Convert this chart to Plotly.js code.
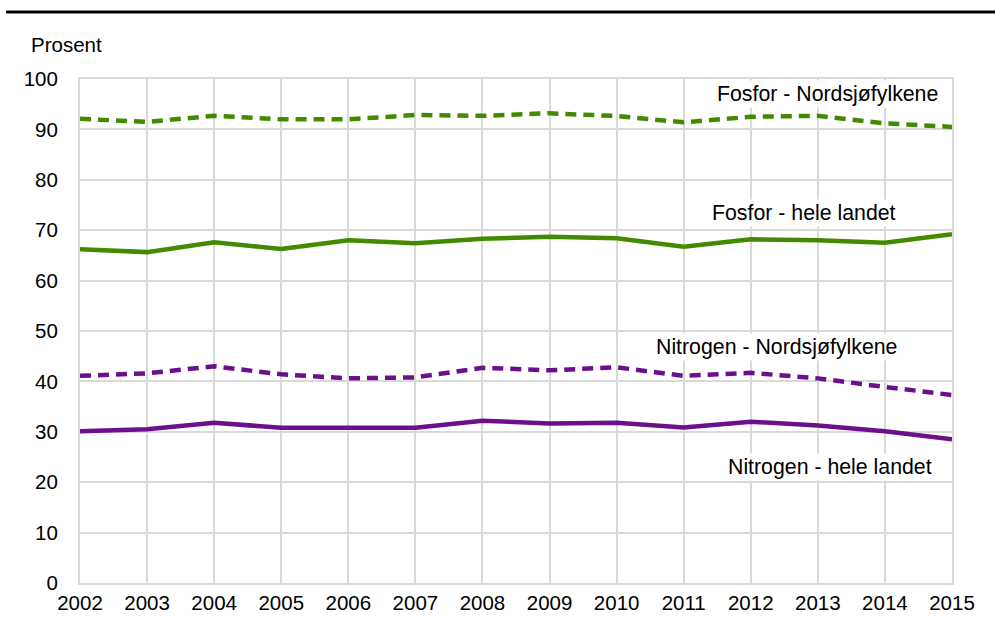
<!DOCTYPE html>
<html>
<head>
<meta charset="utf-8">
<script src="https://cdn.plot.ly/plotly-3.0.1.min.js"></script>
<style>html,body{margin:0;padding:0;background:#fff;}#chart{width:995px;height:619px;}</style>
</head>
<body>
<div id="chart"></div>
<script>
const years = [2002,2003,2004,2005,2006,2007,2008,2009,2010,2011,2012,2013,2014,2015];
const fosforNordsjo = [92.1,91.5,92.7,92.0,92.0,92.85,92.7,93.2,92.65,91.4,92.5,92.7,91.2,90.5];
const fosforHele = [66.2,65.65,67.6,66.25,68.0,67.4,68.3,68.7,68.4,66.7,68.2,68.0,67.5,69.2];
const nitrogenNordsjo = [41.1,41.6,43.0,41.4,40.6,40.8,42.7,42.2,42.8,41.1,41.7,40.6,38.9,37.3];
const nitrogenHele = [30.1,30.5,31.8,30.8,30.8,30.8,32.2,31.65,31.8,30.85,32.0,31.25,30.1,28.5];
const seriesNames = ['Fosfor - Nordsjøfylkene','Fosfor - hele landet','Nitrogen - Nordsjøfylkene','Nitrogen - hele landet'];
const yTicks = [0,10,20,30,40,50,60,70,80,90,100];

const green = '#438a00';
const purple = '#6b0f8c';
const FONT = 'Liberation Sans, Arial, sans-serif';

const traces = [
  {x: years, y: fosforNordsjo, name: seriesNames[0], mode:'lines', line:{color:green, width:4.5, dash:'11px,7px'}},
  {x: years, y: fosforHele, name: seriesNames[1], mode:'lines', line:{color:green, width:4.5}},
  {x: years, y: nitrogenNordsjo, name: seriesNames[2], mode:'lines', line:{color:purple, width:4.5, dash:'11px,7px'}},
  {x: years, y: nitrogenHele, name: seriesNames[3], mode:'lines', line:{color:purple, width:4.5}}
];

const labelPos = [
  {x: 2013.14, y: 97.0},
  {x: 2012.79, y: 73.4},
  {x: 2012.38, y: 46.8},
  {x: 2013.18, y: 23.0}
];

const annotations = seriesNames.map((t,i)=>({
  text: t, x: labelPos[i].x, y: labelPos[i].y, xref:'x', yref:'y',
  showarrow:false, bgcolor:'#ffffff', borderpad:1,
  font:{family:FONT, size:21.3, color:'#000'}
}));
annotations.push({
  text:'Prosent', xref:'paper', yref:'paper', x:(29-80)/872, y:(582.7-45)/503.7,
  xanchor:'left', yanchor:'middle', showarrow:false,
  font:{family:FONT, size:20.5, color:'#000'}
});

const layout = {
  width: 995, height: 619,
  margin: {l:80, r:43, t:79, b:36, pad:0},
  paper_bgcolor:'#fff', plot_bgcolor:'#fff',
  showlegend:false,
  font:{family:FONT, size:20.5, color:'#000'},
  xaxis:{
    range:[2002,2015], tickvals: years, ticktext: years.map(String),
    showgrid:true, gridcolor:'#d9d9d9', gridwidth:2,
    showline:true, linecolor:'#d9d9d9', linewidth:2, mirror:true,
    zeroline:false, ticks:'', ticklabelstandoff:0,
    tickfont:{family:FONT, size:20.5, color:'#000'}
  },
  yaxis:{
    range:[0,100], tickvals: yTicks,
    showgrid:true, gridcolor:'#d9d9d9', gridwidth:2,
    showline:true, linecolor:'#d9d9d9', linewidth:2, mirror:true,
    zeroline:false, ticks:'', ticklabelstandoff:16,
    tickfont:{family:FONT, size:20.5, color:'#000'}
  },
  annotations: annotations,
  shapes:[{
    type:'line', xref:'paper', yref:'paper',
    x0:(6-80)/872, x1:(995-80)/872, y0:(582.7-12)/503.7, y1:(582.7-12)/503.7,
    line:{color:'#000', width:3}
  }]
};

Plotly.newPlot('chart', traces, layout, {displayModeBar:false, staticPlot:true});
</script>
</body>
</html>
